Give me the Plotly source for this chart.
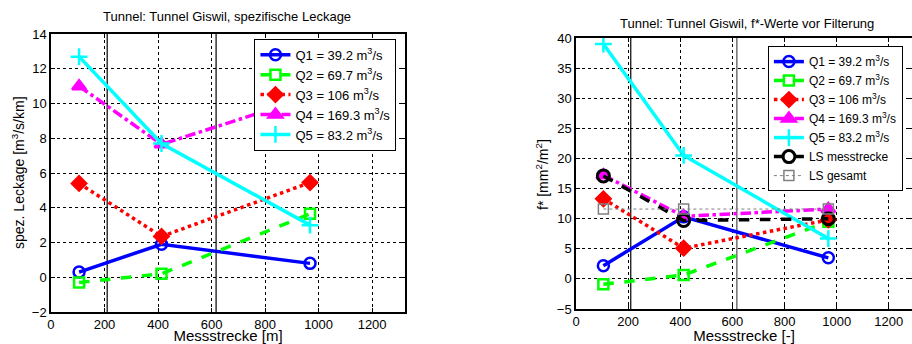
import plotly.graph_objects as go

# ---- data ----
x_pos = [105, 413, 968]
names = ["Q1 = 39.2 m<sup>3</sup>/s", "Q2 = 69.7 m<sup>3</sup>/s", "Q3 = 106 m<sup>3</sup>/s",
         "Q4 = 169.3 m<sup>3</sup>/s", "Q5 = 83.2 m<sup>3</sup>/s"]
leak_Q1 = [0.3, 1.9, 0.8]
leak_Q2 = [-0.3, 0.2, 3.65]
leak_Q3 = [5.4, 2.35, 5.45]
leak_Q4 = [11.0, 7.65, 10.4]
leak_Q5 = [12.7, 7.7, 3.0]

f_Q1 = [2.2, 10.3, 3.5]
f_Q2 = [-0.9, 0.65, 9.5]
f_Q3 = [13.3, 5.1, 9.8]
f_Q4 = [17.2, 10.4, 11.6]
f_Q5 = [39.0, 20.5, 6.7]
f_LS_mess = [17.1, 9.7, 10.0]
f_LS_ges = [11.6, 11.6, 11.6]
ls_names = ["LS messtrecke", "LS gesamt"]

section_bounds = [210, 617]
x_ticks = [0, 200, 400, 600, 800, 1000, 1200]
y_ticks_left = list(range(-2, 15, 2))
y_ticks_right = list(range(-5, 41, 5))

styles = [
    dict(color="#0000FF", dash="solid", symbol="circle-open", msize=11),
    dict(color="#00FF00", dash="dash", symbol="square-open", msize=10),
    dict(color="#FF0000", dash="dot", symbol="diamond", msize=11),
    dict(color="#FF00FF", dash="dashdot", symbol="triangle-up", msize=12),
    dict(color="#00FFFF", dash="solid", symbol="cross-thin-open", msize=12),
]

FONT = "Liberation Sans, Arial, sans-serif"
fig = go.Figure()

left_data = [leak_Q1, leak_Q2, leak_Q3, leak_Q4, leak_Q5]
right_data = [f_Q1, f_Q2, f_Q3, f_Q4, f_Q5]

for i, (ys, st) in enumerate(zip(left_data, styles)):
    fig.add_trace(go.Scatter(
        x=x_pos, y=ys, name=names[i], mode="lines+markers", xaxis="x", yaxis="y",
        line=dict(color=st["color"], width=3.5, dash=st["dash"]),
        marker=dict(symbol=st["symbol"], size=st["msize"], color=st["color"],
                    line=dict(color=st["color"], width=2.5)),
        legend="legend"))

for i, (ys, st) in enumerate(zip(right_data, styles)):
    fig.add_trace(go.Scatter(
        x=x_pos, y=ys, name=names[i], mode="lines+markers", xaxis="x2", yaxis="y2",
        line=dict(color=st["color"], width=3.5, dash=st["dash"]),
        marker=dict(symbol=st["symbol"], size=st["msize"], color=st["color"],
                    line=dict(color=st["color"], width=2.5)),
        legend="legend2"))

fig.add_trace(go.Scatter(
    x=x_pos, y=f_LS_mess, name=ls_names[0], mode="lines+markers", xaxis="x2", yaxis="y2",
    line=dict(color="black", width=3.5, dash="dash"),
    marker=dict(symbol="circle-open", size=12, color="black", line=dict(color="black", width=3)),
    legend="legend2"))
fig.add_trace(go.Scatter(
    x=x_pos, y=f_LS_ges, name=ls_names[1], mode="lines+markers", xaxis="x2", yaxis="y2",
    line=dict(color="#808080", width=1, dash="dot"),
    marker=dict(symbol="square-open", size=10, color="#808080", line=dict(color="#808080", width=1.5)),
    legend="legend2"))

shapes = []
for xr, yr, cols in [("x", "y", ["black", "black"]), ("x2", "y2", ["black", "#707070"])]:
    for b, c in zip(section_bounds, cols):
        shapes.append(dict(type="line", xref=xr, yref=f"{yr} domain", x0=b, x1=b, y0=0, y1=1,
                           line=dict(color=c, width=1.5 if c != "black" else 1.2), layer="below"))

axis_common = dict(showgrid=True, gridcolor="black", griddash="dot", gridwidth=1,
                   showline=True, linecolor="black", linewidth=1.5, ticks="inside", ticklen=4,
                   tickcolor="black", zeroline=False, tickfont=dict(size=13, color="black", family=FONT))

def ann(text, x, y, size, angle=0):
    return dict(text=text, x=x / 912, y=1 - y / 344, xref="paper", yref="paper",
                xanchor="center", yanchor="middle", showarrow=False, textangle=angle,
                font=dict(size=size, color="black", family=FONT))

xtitle_font = dict(size=15, color="black", family=FONT)

fig.update_layout(
    width=912, height=344, margin=dict(l=0, r=0, t=0, b=0),
    paper_bgcolor="white", plot_bgcolor="white",
    font=dict(family=FONT, color="black"),
    shapes=shapes,
    xaxis=dict(domain=[0.0559, 0.4441], range=[0, 1323], tickvals=x_ticks, mirror="ticks",
               anchor="y", title=dict(text="Messstrecke [m]", standoff=5, font=xtitle_font),
               automargin=False, **axis_common),
    yaxis=dict(domain=[0.093, 0.901], range=[-2, 14], tickvals=y_ticks_left, mirror="ticks",
               anchor="x", automargin=False, **axis_common),
    xaxis2=dict(domain=[0.6316, 1.0], range=[0, 1289], tickvals=x_ticks, mirror="ticks",
                anchor="y2", title=dict(text="Messstrecke [-]", standoff=4, font=xtitle_font),
                automargin=False, **axis_common),
    yaxis2=dict(domain=[0.1017, 0.8895], range=[-5, 40], tickvals=y_ticks_right, mirror="ticks",
                anchor="x2", automargin=False, **axis_common),
    legend=dict(x=0.279, y=0.887, xanchor="left", yanchor="top", bgcolor="white",
                bordercolor="black", borderwidth=1, font=dict(size=13, family=FONT),
                tracegroupgap=0),
    legend2=dict(x=0.842, y=0.866, xanchor="left", yanchor="top", bgcolor="white",
                 bordercolor="black", borderwidth=1, font=dict(size=12, family=FONT),
                 tracegroupgap=0),
    annotations=[
        ann("Tunnel: Tunnel Giswil, spezifische Leckage", 227, 17, 13),
        ann("Tunnel: Tunnel Giswil, f*-Werte vor Filterung", 747, 23, 13),
        ann("spez. Leckage [m<sup>3</sup>/s/km]", 18, 173, 14, -90),
        ann("f* [mm<sup>2</sup>/m<sup>2</sup>]", 542, 175, 14, -90),
    ],
)

fig.write_html("out.html")
